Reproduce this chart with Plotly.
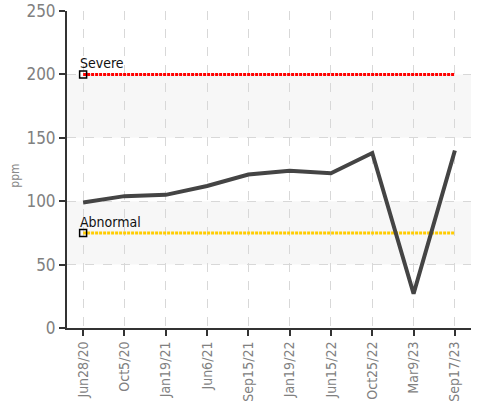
import plotly.graph_objects as go

dates = ["Jun28/20", "Oct5/20", "Jan19/21", "Jun6/21", "Sep15/21",
         "Jan19/22", "Jun15/22", "Oct25/22", "Mar9/23", "Sep17/23"]
ppm = [99, 104, 105, 112, 121, 124, 122, 138, 27, 140]
severe_level = 200
abnormal_level = 75
band_ranges = [(50, 100), (150, 200)]

FONT = "DejaVu Sans Condensed, Liberation Sans Narrow, sans-serif"

fig = go.Figure()

for lo, hi in band_ranges:
    fig.add_shape(type="rect", xref="paper", yref="y", x0=0, x1=1, y0=lo, y1=hi,
                  fillcolor="#f7f7f7", line_width=0, layer="below")

fig.add_trace(go.Scatter(x=dates, y=[severe_level] * len(dates), mode="lines",
                         line=dict(color="#ff0000", width=3, dash="3px,1px"),
                         hoverinfo="skip", showlegend=False))
fig.add_trace(go.Scatter(x=dates, y=[abnormal_level] * len(dates), mode="lines",
                         line=dict(color="#ffcc00", width=3, dash="3px,1px"),
                         hoverinfo="skip", showlegend=False))
fig.add_trace(go.Scatter(x=[dates[0], dates[0]], y=[severe_level, abnormal_level],
                         mode="markers",
                         marker=dict(symbol="square-open", size=7, color="#000",
                                     line=dict(width=1.5, color="#000")),
                         showlegend=False))
fig.add_trace(go.Scatter(x=dates, y=ppm, mode="lines",
                         line=dict(color="#444444", width=4),
                         showlegend=False))

for label, lvl in [("Severe", severe_level), ("Abnormal", abnormal_level)]:
    fig.add_annotation(x=dates[0], y=lvl, text=label, showarrow=False,
                       xanchor="left", yanchor="bottom", xshift=-5, yshift=1,
                       font=dict(family=FONT, size=14, color="#111"))

fig.add_annotation(xref="paper", yref="paper", x=-0.129, y=0.48, text="ppm",
                   showarrow=False, textangle=-90, xanchor="center",
                   font=dict(family=FONT, size=12, color="#888"))

fig.update_layout(
    width=478, height=411,
    margin=dict(l=67, r=7, t=11, b=83),
    plot_bgcolor="white", paper_bgcolor="white",
    font=dict(family=FONT, color="#808080"),
)
fig.update_xaxes(type="category", range=[-0.39, 9.39], tickangle=-90,
                 automargin=False, ticklabeloverflow="allow",
                 showline=True, linecolor="#333", linewidth=2,
                 ticks="outside", ticklen=6, tickwidth=2, tickcolor="#333",
                 showgrid=True, gridcolor="#d8d8d8", griddash="dash", gridwidth=1,
                 tickfont=dict(family=FONT, size=14, color="#808080"))
fig.update_yaxes(range=[0, 250], dtick=50, automargin=False,
                 ticklabeloverflow="allow",
                 showline=True, linecolor="#333", linewidth=2,
                 ticks="outside", ticklen=6, tickwidth=2, tickcolor="#333",
                 showgrid=True, gridcolor="#d8d8d8", griddash="dash", gridwidth=1,
                 zeroline=False,
                 tickfont=dict(family=FONT, size=17, color="#808080"))

fig.write_html("out.html", config={"displayModeBar": False},
               post_script="document.body.style.margin='0';document.body.style.overflow='hidden';")
